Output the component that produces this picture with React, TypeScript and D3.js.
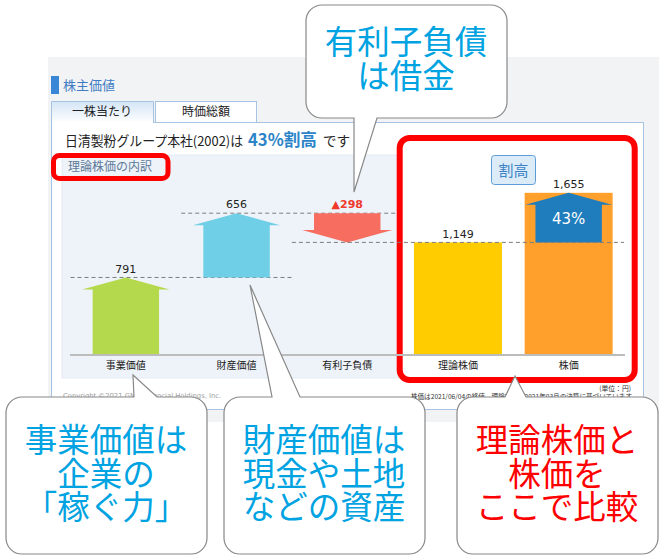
import React from "react";
import * as d3 from "d3";

const categories = ["事業価値", "財産価値", "有利子負債", "理論株価", "株価"];
const values = [791, 656, -298, 1149, 1655];
const premiumPct = 43;
const companyName = "日清製粉グループ本社(2002)";
const tabs = ["一株当たり", "時価総額"];
const calloutTop = ["有利子負債", "は借金"];
const calloutLeft = ["事業価値は", "企業の", "「稼ぐ力」"];
const calloutMid = ["財産価値は", "現金や土地", "などの資産"];
const calloutRight = ["理論株価と", "株価を", "ここで比較"];

const JP = "'Noto Sans CJK JP', 'Noto Sans', sans-serif";
const NUM = "'DejaVu Sans', 'Noto Sans', sans-serif";
const CYAN = "#00a3e2";

function bubblePath(x: number, y: number, w: number, h: number, r: number, side: "top" | "bottom", b1: number, b2: number, tx: number, ty: number) {
  if (side === "bottom") {
    return `M${x + r},${y} H${x + w - r} A${r},${r} 0 0 1 ${x + w},${y + r} V${y + h - r} A${r},${r} 0 0 1 ${x + w - r},${y + h} H${b2} L${tx},${ty} L${b1},${y + h} H${x + r} A${r},${r} 0 0 1 ${x},${y + h - r} V${y + r} A${r},${r} 0 0 1 ${x + r},${y} Z`;
  }
  return `M${x + r},${y} H${b1} L${tx},${ty} L${b2},${y} H${x + w - r} A${r},${r} 0 0 1 ${x + w},${y + r} V${y + h - r} A${r},${r} 0 0 1 ${x + w - r},${y + h} H${x + r} A${r},${r} 0 0 1 ${x},${y + h - r} V${y + r} A${r},${r} 0 0 1 ${x + r},${y} Z`;
}

function arrowPath(cx: number, yFrom: number, yTip: number, shaftW: number, headW: number, headH: number) {
  const dir = yTip < yFrom ? 1 : -1; // 1 = up
  const hb = yTip + dir * headH;
  const s = shaftW / 2, hw = headW / 2;
  return `M${cx - s},${yFrom} L${cx - s},${hb} L${cx - hw},${hb} L${cx},${yTip} L${cx + hw},${hb} L${cx + s},${hb} L${cx + s},${yFrom} Z`;
}

export default function App() {
  const W = 659, H = 559;
  const x = d3.scaleBand<string>().domain(categories).range([70.5, 624]).padding(0);
  const y = d3.scaleLinear().domain([0, 1800]).range([355, 355 - 1800 * 0.098]);
  const fmt = d3.format(",");
  const cx = (c: string) => (x(c) as number) + x.bandwidth() / 2;

  const biz = values[0], asset = values[1], debt = values[2], theo = values[3], price = values[4];
  const lvl1 = biz, lvl2 = biz + asset, lvl3 = lvl2 + debt;
  const colors = ["#b5d94c", "#6fcfe7", "#f76d60", "#ffcc00", "#ffa02c"];
  const shaftW = x.bandwidth() * 0.6, headW = x.bandwidth() * 0.79, barW = x.bandwidth() * 0.795;

  const dashed = [
    { v: lvl1, from: 0, to: 1 },
    { v: lvl2, from: 1, to: 2 },
    { v: theo, from: 2, to: 4 },
  ];
  const dashLine = (d: { v: number; from: number; to: number }, i: number) => (
    <line key={"d" + i} x1={x(categories[d.from]) as number} x2={(x(categories[d.to]) as number) + x.bandwidth()} y1={y(d.v)} y2={y(d.v)} stroke="#7d7d7d" strokeWidth={1} strokeDasharray="4,3" />
  );

  const labelSize = 11;
  const bubbleFont = 32.5;
  const lineGap = 33.5;

  return (
    <svg width={W} height={H} style={{ position: "absolute", left: 0, top: 0, background: "#fff" }}>
      <defs>
        <linearGradient id="tabg" x1="0" y1="0" x2="0" y2="1">
          <stop offset="0" stopColor="#d4e5f6" />
          <stop offset="1" stopColor="#ffffff" />
        </linearGradient>
      </defs>
      <rect x={48} y={57} width={W - 48} height={365} fill="#f2f3f5" />
      <rect x={51} y={76} width={8} height={18} fill="#3a86d6" />
      <text x={63} y={90} fontFamily={JP} fontSize={13} fill="#3f7cc4">株主価値</text>
      <rect x={51.5} y={122.5} width={592} height={287} fill="#fff" stroke="#a6c4e2" strokeWidth={1} />
      <path d="M51.5,123 V101.5 H153.5 V123" fill="url(#tabg)" stroke="#a6c4e2" strokeWidth={1} />
      <rect x={52} y={122} width={101} height={2} fill="#fff" />
      <rect x={155.5} y={101.5} width={101} height={21} fill="#fff" stroke="#a6c4e2" strokeWidth={1} />
      <text x={102} y={116} textAnchor="middle" fontFamily={JP} fontSize={12} fill="#222">{tabs[0]}</text>
      <text x={206} y={116} textAnchor="middle" fontFamily={JP} fontSize={12} fill="#222">{tabs[1]}</text>
      <text x={65} y={146} fontFamily={JP} fontSize={13.5} fill="#222" textLength={178} lengthAdjust="spacingAndGlyphs">{companyName + "は"}</text>
      <text x={248} y={146} fontFamily={JP} fontSize={17} fontWeight="bold" fill="#2c84c8" textLength={69} lengthAdjust="spacingAndGlyphs">{premiumPct + "%割高"}</text>
      <text x={323} y={146} fontFamily={JP} fontSize={13.5} fill="#222">です</text>
      <rect x={62} y={155} width={572} height={223} fill="#eef3f9" stroke="#e3eaf3" strokeWidth={1} />
      <text x={68} y={171} fontFamily={JP} fontSize={12} fill="#5d7a98">理論株価の内訳</text>
      <rect x={53.5} y={155.5} width={114.5} height={23} rx={6} fill="none" stroke="#ff0000" strokeWidth={5} />

      {dashed.filter((d) => d.to < 4).map(dashLine)}

      <rect x={399.7} y={138} width={235} height={242} rx={10} fill="#fff" stroke="#ff0000" strokeWidth={6} />

      <path d={arrowPath(cx(categories[0]), y(0), y(lvl1), shaftW, headW, 12)} fill={colors[0]} />
      <path d={arrowPath(cx(categories[1]), y(lvl1), y(lvl2), shaftW, headW, 12)} fill={colors[1]} />
      <path d={arrowPath(cx(categories[2]), y(lvl2), y(lvl3), shaftW, headW * 1.03, 12.5)} fill={colors[2]} />
      <rect x={cx(categories[3]) - barW / 2} y={y(theo)} width={barW} height={y(0) - y(theo)} fill={colors[3]} />
      <rect x={cx(categories[4]) - barW / 2} y={y(price)} width={barW} height={y(0) - y(price)} fill={colors[4]} />
      <path d={arrowPath(cx(categories[4]), y(theo), y(price), shaftW, barW * 0.985, 12)} fill="#1f7dbd" />
      <text x={cx(categories[4])} y={223.5} textAnchor="middle" fontFamily={NUM} fontSize={15} fill="#fff">{premiumPct + "%"}</text>

      {dashed.filter((d) => d.to >= 4).map(dashLine)}

      <line x1={70} x2={625} y1={355} y2={355} stroke="#bcbcbc" strokeWidth={2} />

      <text x={cx(categories[0])} y={y(lvl1) - 4} textAnchor="middle" fontFamily={NUM} fontSize={labelSize} fill="#222">{fmt(biz)}</text>
      <text x={cx(categories[1])} y={y(lvl2) - 5} textAnchor="middle" fontFamily={NUM} fontSize={labelSize} fill="#222">{fmt(asset)}</text>
      <text x={cx(categories[2])} y={y(lvl2) - 5} textAnchor="middle" fontFamily={NUM} fontSize={labelSize} fontWeight="bold" fill="#f0382b">{"▲" + fmt(-debt)}</text>
      <text x={cx(categories[3])} y={y(theo) - 4} textAnchor="middle" fontFamily={NUM} fontSize={labelSize} fill="#222">{fmt(theo)}</text>
      <text x={cx(categories[4])} y={y(price) - 5} textAnchor="middle" fontFamily={NUM} fontSize={labelSize} fill="#222">{fmt(price)}</text>

      <rect x={491.5} y={155.5} width={44} height={29} rx={3} fill="#dcebf8" stroke="#5d9dd6" strokeWidth={1} />
      <text x={513.5} y={176} textAnchor="middle" fontFamily={JP} fontSize={15} fill="#3b83c6">割高</text>

      {categories.map((c) => (
        <text key={c} x={cx(c)} y={369} textAnchor="middle" fontFamily={JP} fontSize={10} fill="#222">{c}</text>
      ))}

      <text x={63} y={398} fontFamily={NUM} fontSize={6.8} fill="#a0a0a0">Copyright ©2021 GMO Financial Holdings, Inc.</text>
      <text x={631} y={391} textAnchor="end" fontFamily={JP} fontSize={6.8} fill="#333">(単位：円)</text>
      <text x={632} y={399} textAnchor="end" fontFamily={JP} fontSize={6.6} fill="#333">株価は2021/06/04の終値、理論株価は2021年03月の決算に基づいています</text>

      <path d={bubblePath(306, 5, 201, 113, 16, "bottom", 354, 377, 354, 192)} fill="#fff" stroke="#888" strokeWidth={1.2} />
      {calloutTop.map((t, i) => (
        <text key={t} x={406} y={54 + i * lineGap} textAnchor="middle" fontFamily={JP} fontSize={bubbleFont} fill={CYAN}>{t}</text>
      ))}
      <path d={bubblePath(6, 397, 201, 157, 16, "top", 134, 157, 133, 375)} fill="#fff" stroke="#888" strokeWidth={1.2} />
      {calloutLeft.map((t, i) => (
        <text key={t} x={106} y={452 + i * lineGap} textAnchor="middle" fontFamily={JP} fontSize={bubbleFont} fill={CYAN}>{t}</text>
      ))}
      <path d={bubblePath(224, 397, 201, 157, 16, "top", 272, 300, 250, 285)} fill="#fff" stroke="#888" strokeWidth={1.2} />
      {calloutMid.map((t, i) => (
        <text key={t} x={324} y={452 + i * lineGap} textAnchor="middle" fontFamily={JP} fontSize={bubbleFont} fill={CYAN}>{t}</text>
      ))}
      <path d={bubblePath(457, 397, 201, 157, 16, "top", 505, 526, 515, 376)} fill="#fff" stroke="#888" strokeWidth={1.2} />
      {calloutRight.map((t, i) => (
        <text key={t} x={557} y={452 + i * lineGap} textAnchor="middle" fontFamily={JP} fontSize={bubbleFont} fill="#ff0000">{t}</text>
      ))}
    </svg>
  );
}
